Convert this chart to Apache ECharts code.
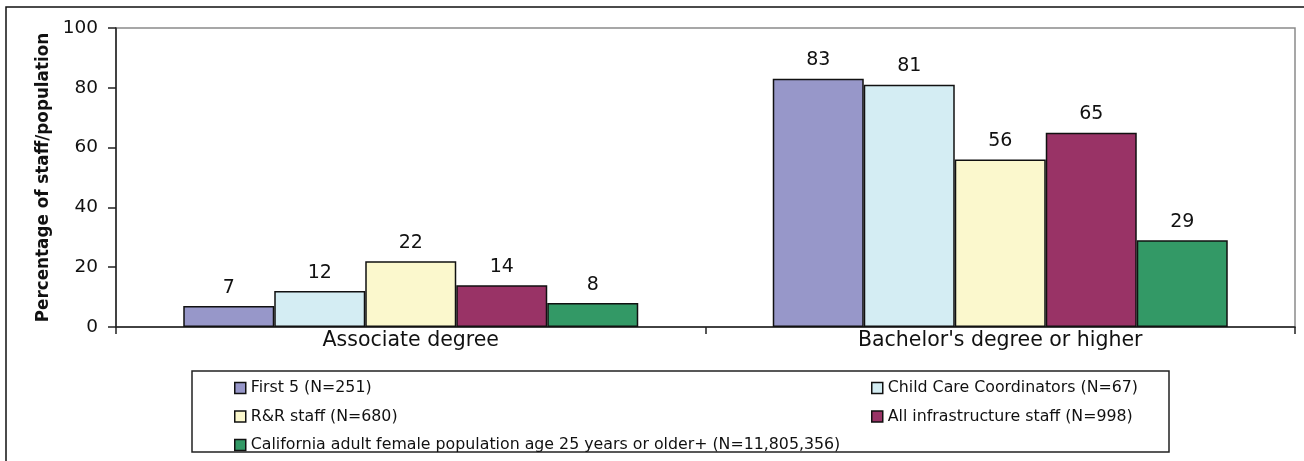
<!DOCTYPE html>
<html>
<head>
<meta charset="utf-8">
<script src="https://cdn.jsdelivr.net/npm/echarts@6/dist/echarts.min.js"></script>
<style>
  html, body { margin: 0; padding: 0; background: #fff; }
  #chart { width: 1304px; height: 461px; }
</style>
</head>
<body>
<div id="chart"></div>
<script>
// categories and values
const categories = ['Associate degree', "Bachelor's degree or higher"];
const seriesNames = [
    'First 5 (N=251)',
    'Child Care Coordinators (N=67)',
    'R&R staff (N=680)',
    'All infrastructure staff (N=998)',
    'California adult female population age 25 years or older+ (N=11,805,356)'
];
const first5 = [7, 83];
const childCare = [12, 81];
const rrStaff = [22, 56];
const allInfra = [14, 65];
const californiaFemale = [8, 29];
const yTicks = [0, 20, 40, 60, 80, 100];

const colors = ['#9797c9', '#d4edf3', '#fbf8cd', '#993366', '#339966'];
const values = [first5, childCare, rrStaff, allInfra, californiaFemale];
const font = 'DejaVu Sans';

const chart = echarts.init(document.getElementById('chart'));

const series = seriesNames.map((name, i) => ({
    name: name,
    type: 'bar',
    data: values[i],
    barWidth: 91,
    barGap: '0%',
    itemStyle: { color: colors[i], borderColor: '#111', borderWidth: 1.5 },
    label: {
        show: true,
        position: 'top',
        distance: 9,
        color: '#111',
        fontFamily: font,
        fontSize: 19
    }
}));

const legendBase = {
    orient: 'vertical',
    top: 375,
    itemWidth: 11, itemHeight: 11, itemGap: 12.5,
    icon: 'rect',
    itemStyle: { borderColor: '#111', borderWidth: 1.5 },
    textStyle: { color: '#111', fontFamily: font, fontSize: 15.8 }
};

chart.setOption({
    animation: false,
    backgroundColor: '#fff',
    grid: {
        left: 116, top: 28, right: 9, bottom: 134,
        show: true, borderColor: '#8a8a8a', borderWidth: 1.5
    },
    xAxis: {
        type: 'category',
        data: categories,
        axisLine: { lineStyle: { color: '#222', width: 1.5 } },
        axisTick: { show: true, length: 7, lineStyle: { color: '#222', width: 1.5 } },
        axisLabel: { color: '#111', fontFamily: font, fontSize: 20.5, margin: 3 }
    },
    yAxis: {
        type: 'value',
        min: yTicks[0],
        max: yTicks[yTicks.length - 1],
        interval: 20,
        name: 'Percentage of staff/population',
        nameLocation: 'middle',
        nameGap: 63,
        nameTextStyle: { color: '#111', fontFamily: font, fontSize: 16.8, fontWeight: 'bold' },
        axisLine: { show: true, lineStyle: { color: '#222', width: 1.5 } },
        axisTick: { show: true, length: 8, lineStyle: { color: '#222', width: 1.5 } },
        axisLabel: { color: '#111', fontFamily: font, fontSize: 18.5, margin: 18 },
        splitLine: { show: false }
    },
    legend: [
        Object.assign({}, legendBase, {
            data: [seriesNames[0], seriesNames[2], seriesNames[4]],
            left: 229
        }),
        Object.assign({}, legendBase, {
            data: [seriesNames[1], seriesNames[3]],
            left: 866
        })
    ],
    graphic: [
        {
            type: 'rect', silent: true, z: -1,
            shape: { x: 6, y: 7, width: 1320, height: 480 },
            style: { fill: null, stroke: '#111', lineWidth: 1.5 }
        },
        {
            type: 'rect', silent: true, z: -1,
            shape: { x: 192, y: 371, width: 977, height: 81 },
            style: { fill: null, stroke: '#222', lineWidth: 1.5 }
        }
    ],
    series: series
});
</script>
</body>
</html>
